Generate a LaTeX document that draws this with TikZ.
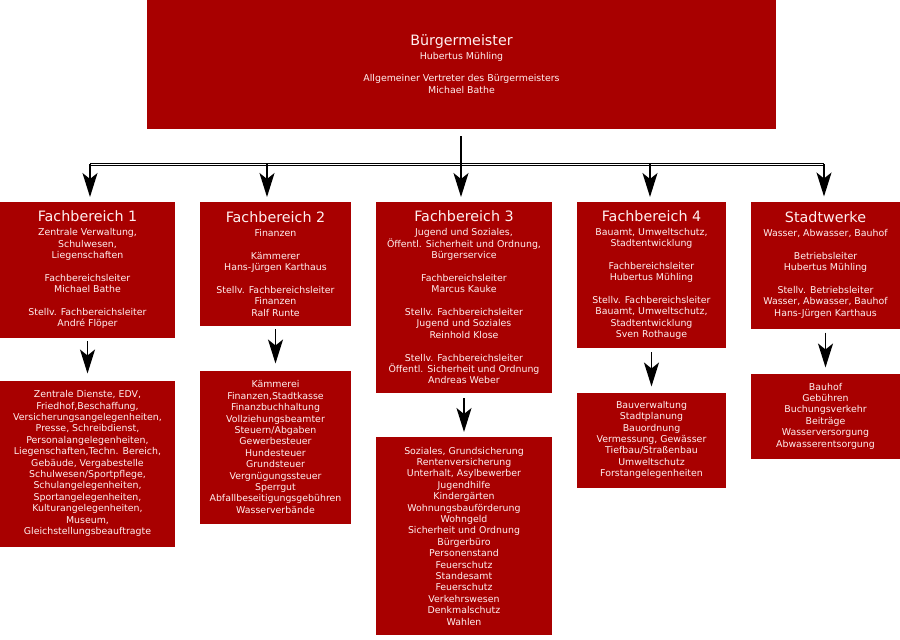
\documentclass[tikz,border=0pt]{standalone}
\usepackage{fontspec}
\setmainfont{DejaVu Sans}
\usetikzlibrary{arrows.meta}
\definecolor{fbred}{RGB}{168,0,0}
\definecolor{fbtext}{RGB}{255,240,240}
\newcommand{\hd}[1]{{\fontsize{14.3}{16}\selectfont #1}}
\tikzset{
  orgbox/.style={fill=fbred, text=fbtext, inner sep=0pt, outer sep=0pt, align=center,
    font=\fontsize{9.4}{11.4}\selectfont},
  trunkline/.style={line width=1.8pt, black, shorten <=7pt},
  barline/.style={black, line width=1pt, double=white, double distance=1pt},
  arr/.style={black, line width=1.6pt, -{Stealth[length=24pt,width=15pt,inset=6pt]}}
}
\begin{document}
\begin{tikzpicture}[x=1pt,y=-1pt]
\useasboundingbox[fill=white] (0,0) rectangle (900,640);

\node[orgbox, minimum width=629pt, minimum height=130pt] (top) at (461.5,64)
 {\hd{Bürgermeister}\\[2.4pt] Hubertus Mühling\\[11.4pt]
  Allgemeiner Vertreter des Bürgermeisters\\ Michael Bathe};

\node[orgbox, minimum width=175pt, minimum height=136pt] (fb1) at (87.5,270)
 {\hd{Fachbereich 1}\\[2.4pt] Zentrale Verwaltung,\\ Schulwesen,\\ Liegenschaften\\[11.4pt]
  Fachbereichsleiter\\ Michael Bathe\\[11.4pt]
  Stellv. Fachbereichsleiter\\ André Flöper};

\node[orgbox, minimum width=151pt, minimum height=124pt] (fb2) at (275.5,264)
 {\hd{Fachbereich 2}\\[2.4pt] Finanzen\\[11.4pt]
  Kämmerer\\ Hans-Jürgen Karthaus\\[11.4pt]
  Stellv. Fachbereichsleiter\\ Finanzen\\ Ralf Runte};

\node[orgbox, minimum width=176pt, minimum height=191pt] (fb3) at (464,297.5)
 {\hd{Fachbereich 3}\\[2.4pt] Jugend und Soziales,\\ Öffentl. Sicherheit und Ordnung,\\ Bürgerservice\\[11.4pt]
  Fachbereichsleiter\\ Marcus Kauke\\[11.4pt]
  Stellv. Fachbereichsleiter\\ Jugend und Soziales\\ Reinhold Klose\\[11.4pt]
  Stellv. Fachbereichsleiter\\ Öffentl. Sicherheit und Ordnung\\ Andreas Weber};

\node[orgbox, minimum width=149pt, minimum height=146pt] (fb4) at (651.5,275)
 {\hd{Fachbereich 4}\\[2.4pt] Bauamt, Umweltschutz,\\ Stadtentwicklung\\[11.4pt]
  Fachbereichsleiter\\ Hubertus Mühling\\[11.4pt]
  Stellv. Fachbereichsleiter\\ Bauamt, Umweltschutz,\\ Stadtentwicklung\\ Sven Rothauge};

\node[orgbox, minimum width=149pt, minimum height=127pt] (sw) at (825.5,265)
 {\hd{Stadtwerke}\\[2.4pt] Wasser, Abwasser, Bauhof\\[11.4pt]
  Betriebsleiter\\ Hubertus Mühling\\[11.4pt]
  Stellv. Betriebsleiter\\ Wasser, Abwasser, Bauhof\\ Hans-Jürgen Karthaus};

\node[orgbox, minimum width=175pt, minimum height=166pt] (l1) at (87.5,463.5)
 {Zentrale Dienste, EDV,\\ Friedhof,Beschaffung,\\ Versicherungsangelegenheiten,\\
  Presse, Schreibdienst,\\ Personalangelegenheiten,\\ Liegenschaften,Techn. Bereich,\\
  Gebäude, Vergabestelle\\ Schulwesen/Sportpflege,\\ Schulangelegenheiten,\\
  Sportangelegenheiten,\\ Kulturangelegenheiten,\\ Museum,\\ Gleichstellungsbeauftragte};

\node[orgbox, minimum width=151pt, minimum height=153pt] (l2) at (275.5,447)
 {Kämmerei\\ Finanzen,Stadtkasse\\ Finanzbuchhaltung\\ Vollziehungsbeamter\\
  Steuern/Abgaben\\ Gewerbesteuer\\ Hundesteuer\\ Grundsteuer\\ Vergnügungssteuer\\
  Sperrgut\\ Abfallbeseitigungsgebühren\\ Wasserverbände};

\node[orgbox, minimum width=176pt, minimum height=198pt] (l3) at (464,536)
 {Soziales, Grundsicherung\\ Rentenversicherung\\ Unterhalt, Asylbewerber\\ Jugendhilfe\\
  Kindergärten\\ Wohnungsbauförderung\\ Wohngeld\\ Sicherheit und Ordnung\\ Bürgerbüro\\
  Personenstand\\ Feuerschutz\\ Standesamt\\ Feuerschutz\\ Verkehrswesen\\ Denkmalschutz\\ Wahlen};

\node[orgbox, minimum width=149pt, minimum height=95pt] (l4) at (651.5,440)
 {Bauverwaltung\\ Stadtplanung\\ Bauordnung\\ Vermessung, Gewässer\\
  Tiefbau/Straßenbau\\ Umweltschutz\\ Forstangelegenheiten};

\node[orgbox, minimum width=149pt, minimum height=85pt] (l5) at (825.5,416)
 {Bauhof\\ Gebühren\\ Buchungsverkehr\\ Beiträge\\ Wasserversorgung\\ Abwasserentsorgung};

% connectors
\coordinate (bar) at (461,164);
\coordinate (b1) at (90,164);
\coordinate (b2) at (267,164);
\coordinate (b4) at (650,164);
\coordinate (b5) at (824,164);

\draw[trunkline] (top.south -| bar) -- (bar);
\draw[barline] (b1) -- (b5);
\draw[arr, shorten >=5pt] (b1) -- (b1 |- fb1.north);
\draw[arr, shorten >=5pt] (b2) -- (b2 |- fb2.north);
\draw[arr, shorten >=5pt] (bar) -- (bar |- fb3.north);
\draw[arr, shorten >=5pt] (b4) -- (b4 |- fb4.north);
\draw[arr, shorten >=5pt] (b5) -- (b5 |- sw.north);

\draw[arr, shorten <=3pt, shorten >=7pt] (fb1.south) -- (l1.north);
\draw[arr, shorten <=3pt, shorten >=7pt] (fb2.south) -- (l2.north);
\draw[arr, shorten <=5pt, shorten >=5pt] (fb3.south) -- (l3.north);
\draw[arr, shorten <=4pt, shorten >=6pt] (fb4.south) -- (l4.north);
\draw[arr, shorten <=4pt, shorten >=6pt] (sw.south) -- (l5.north);
\end{tikzpicture}
\end{document}
